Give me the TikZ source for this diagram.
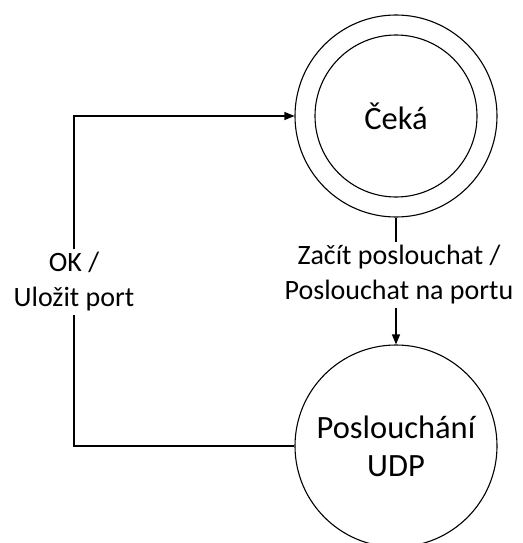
\documentclass[tikz,border=0pt]{standalone}
\usepackage{fontspec}
\setmainfont{Carlito}
\usetikzlibrary{arrows.meta}
\begin{document}
\begin{tikzpicture}[x=1pt,y=-1pt,
  state/.style={circle,draw,line width=1.1pt,inner sep=0pt,align=center,
    font=\fontsize{32.5}{38}\selectfont},
  lbl/.style={align=center,inner sep=3pt,font=\fontsize{28}{35}\selectfont},
  conn/.style={line width=1.1pt},
  arr/.style={conn,-{Triangle[length=10pt,width=8pt]}}]
\useasboundingbox (0,0) rectangle (522,543);
\node[state,minimum size=202pt] (ceka) at (396,116) {};
\node[state,minimum size=162pt] (cekain) at (ceka) {Čeká};
\node[state,minimum size=202pt] (udp) at (396,446) {Poslouchání\\UDP};
\node[lbl] (zac) at (399,275) {Začít poslouchat /\\Poslouchat na portu};
\node[lbl] (ok) at (74,282) {OK /\\Uložit port};
\draw[conn] (ceka.south) -- (ceka.south |- zac.north);
\draw[arr] (udp.north |- zac.south) -- (udp.north);
\draw[arr] (ok.north) |- (ceka.west);
\draw[conn] (udp.west) -| (ok.south);
\end{tikzpicture}
\end{document}
